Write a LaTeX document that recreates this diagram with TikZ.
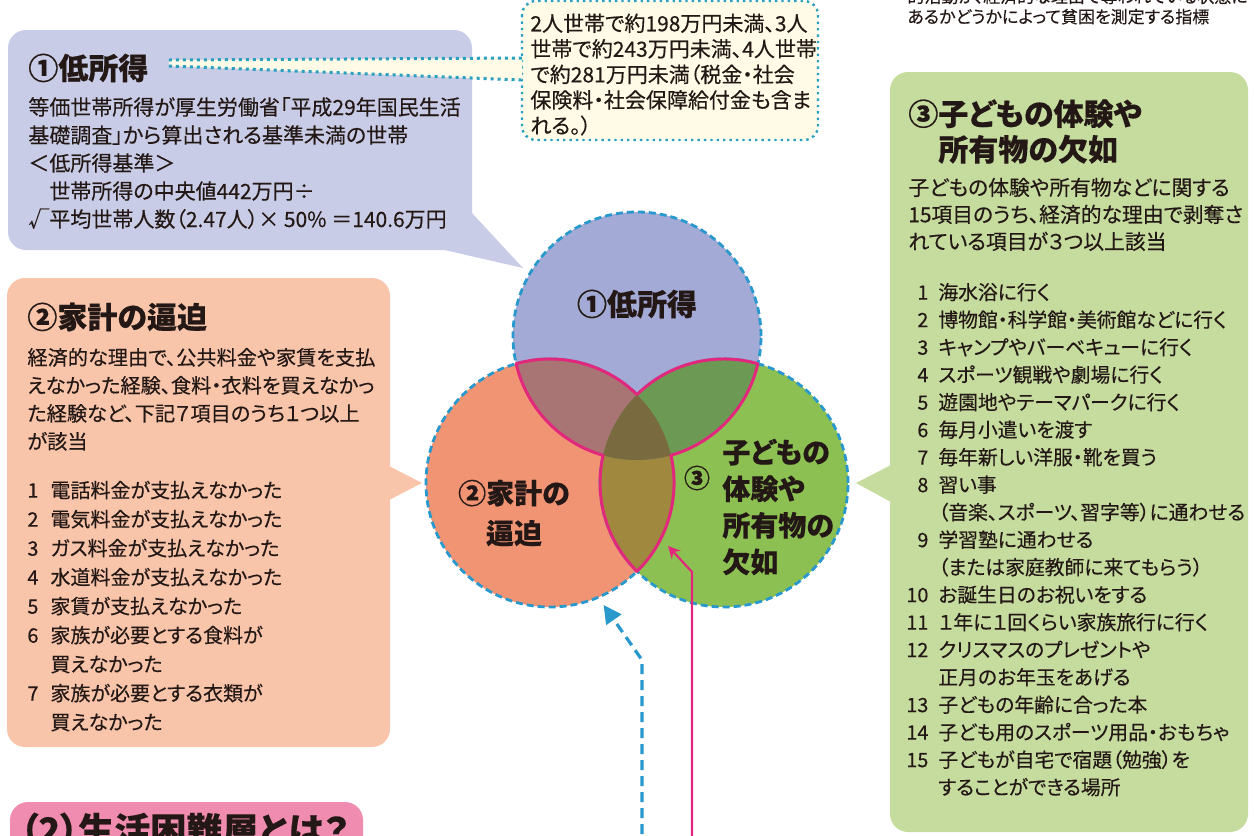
\documentclass[tikz,border=0pt]{standalone}
\usepackage{fontspec}
\setmainfont{Noto Sans CJK JP}[RawFeature=+palt, FakeBold=0.35]
\usetikzlibrary{arrows.meta,calc}

\definecolor{ink}{RGB}{35,24,21}
\definecolor{lowbox}{RGB}{201,204,230}
\definecolor{lowcirc}{RGB}{164,170,214}
\definecolor{debtbox}{RGB}{249,197,170}
\definecolor{debtcirc}{RGB}{241,148,116}
\definecolor{lackbox}{RGB}{197,220,158}
\definecolor{lackcirc}{RGB}{141,192,82}
\definecolor{ovTL}{RGB}{168,116,116}
\definecolor{ovTR}{RGB}{108,153,84}
\definecolor{ovLR}{RGB}{160,136,62}
\definecolor{ovAll}{RGB}{122,106,64}
\definecolor{edgeblue}{RGB}{40,152,205}
\definecolor{noteedge}{RGB}{40,160,190}
\definecolor{magline}{RGB}{226,40,124}
\definecolor{notefill}{RGB}{255,251,230}
\definecolor{pinkbox}{RGB}{240,140,175}

\tikzset{
    box/.style={rounded corners=9pt},
    boxtitle/.style={inner sep=0pt, text=ink, font=\bfseries\fontsize{15}{16}\selectfont},
    boxtext/.style={inner sep=0pt, text=ink, font=\fontsize{10.5}{14}\selectfont},
    itemtext/.style={inner sep=0pt, text=ink, font=\fontsize{10}{14.5}\selectfont},
    vcirc/.style={circle, minimum size=124pt, inner sep=0pt, draw=edgeblue, line width=1.4pt, dash pattern=on 3.5pt off 2pt},
    vlabel/.style={inner sep=0pt, text=ink, font=\bfseries\fontsize{14}{20}\selectfont},
    notebox/.style={rounded corners=7pt, fill=notefill, draw=noteedge, line width=1.2pt, dotted},
    bandline/.style={draw=noteedge, line width=1.5pt, dotted},
    lensline/.style={draw=magline, line width=1.5pt, line join=round},
    dasharrow/.style={draw=edgeblue, line width=1.6pt, dash pattern=on 5pt off 3pt, -{Triangle[length=9pt,width=9pt]}, shorten >=4pt},
    magarrow/.style={draw=magline, line width=1.1pt, -{Stealth[length=6pt,width=6pt]}},
}

\begin{document}
\begin{tikzpicture}[x=0.5pt, y=-0.5pt]
    \useasboundingbox (0,0) rectangle (1254,836);

    \node[boxtext, font=\fontsize{8.5}{10}\selectfont, anchor=north west] (topNote) at (907,-12)
    {\begin{tabular}{@{}l@{}}的活動が、経済的な理由で奪われている状態に\\
    あるかどうかによって貧困を測定する指標\end{tabular}};

    % low income
    \fill[lowbox, box] (8,30) rectangle (472,250);
    \fill[lowbox] (440,249) -- (523,268) -- (471,212) -- cycle;
    \node[boxtitle, anchor=west] (tLow) at (28,68) {①低所得};
    \node[boxtext, anchor=north west] (xLow) at (28,95)
    {\begin{tabular}{@{}l@{}}等価世帯所得が厚生労働省「平成29年国民生活\\
    基礎調査」から算出される基準未満の世帯\\
    ＜低所得基準＞\\
    　世帯所得の中央値442万円÷\\
    √平均世帯人数（2.47人）× 50\% ＝140.6万円\end{tabular}};

    \draw[notebox] (522,1) rectangle (818,140);
    \node[boxtext, font=\fontsize{10.5}{12.75}\selectfont, anchor=north west] (noteText) at (530,13)
    {\begin{tabular}{@{}l@{}}2人世帯で約198万円未満、3人\\
    世帯で約243万円未満、4人世帯\\
    で約281万円未満（税金・社会\\
    保険料・社会保障給付金も含ま\\
    れる。）\end{tabular}};
    \fill[notefill] ([xshift=10pt,yshift=4pt]tLow.east) -- ([xshift=-4pt,yshift=5pt]noteText.west |- tLow.east)
        -- ([xshift=-4pt,yshift=-6pt]noteText.west |- tLow.east) -- ([xshift=10pt,yshift=1pt]tLow.east) -- cycle;
    \draw[bandline] ([xshift=10pt,yshift=4pt]tLow.east) -- ([xshift=-4pt,yshift=5pt]noteText.west |- tLow.east);
    \draw[bandline] ([xshift=10pt,yshift=1pt]tLow.east) -- ([xshift=-4pt,yshift=-6pt]noteText.west |- tLow.east);

    % household debt
    \fill[debtbox, box] (7,278) rectangle (390,747);
    \fill[debtbox] (389,466) -- (422,483) -- (389,500) -- cycle;
    \node[boxtitle, anchor=west] (tDebt) at (27,317) {②家計の逼迫};
    \node[boxtext, font=\fontsize{10.1}{14}\selectfont, anchor=north west] (xDebt) at (27,345)
    {\begin{tabular}{@{}l@{}}経済的な理由で、公共料金や家賃を支払\\
    えなかった経験、食料・衣料を買えなかっ\\
    た経験など、下記７項目のうち１つ以上\\
    が該当\end{tabular}};
    \node[itemtext, anchor=north west] (iDebt) at (27,477)
    {\begin{tabular}{@{}r@{\hspace{6pt}}l@{}}
    1 & 電話料金が支払えなかった\\
    2 & 電気料金が支払えなかった\\
    3 & ガス料金が支払えなかった\\
    4 & 水道料金が支払えなかった\\
    5 & 家賃が支払えなかった\\
    6 & 家族が必要とする食料が\\
      & 買えなかった\\
    7 & 家族が必要とする衣類が\\
      & 買えなかった\end{tabular}};

    % lack of experiences
    \fill[lackbox, box] (890,72) rectangle (1248,832);
    \fill[lackbox] (891,465) -- (856,483) -- (891,502) -- cycle;
    \node[boxtitle, anchor=north west] (tLack) at (908,99)
    {\begin{tabular}{@{}l@{}}③子どもの体験や\\\phantom{③}所有物の欠如\end{tabular}};
    \node[boxtext, font=\fontsize{10.4}{13.5}\selectfont, anchor=north west] (xLack) at (908,176)
    {\begin{tabular}{@{}l@{}}子どもの体験や所有物などに関する\\
    15項目のうち、経済的な理由で剥奪さ\\
    れている項目が３つ以上該当\end{tabular}};
    \node[itemtext, font=\fontsize{9.9}{13.75}\selectfont, anchor=north west] (iLack) at (906,280)
    {\begin{tabular}{@{}r@{\hspace{5pt}}l@{}}
    1 & 海水浴に行く\\
    2 & 博物館・科学館・美術館などに行く\\
    3 & キャンプやバーベキューに行く\\
    4 & スポーツ観戦や劇場に行く\\
    5 & 遊園地やテーマパークに行く\\
    6 & 毎月小遣いを渡す\\
    7 & 毎年新しい洋服・靴を買う\\
    8 & 習い事\\
      & （音楽、スポーツ、習字等）に通わせる\\
    9 & 学習塾に通わせる\\
      & （または家庭教師に来てもらう）\\
    10 & お誕生日のお祝いをする\\
    11 & １年に１回くらい家族旅行に行く\\
    12 & クリスマスのプレゼントや\\
       & 正月のお年玉をあげる\\
    13 & 子どもの年齢に合った本\\
    14 & 子ども用のスポーツ用品・おもちゃ\\
    15 & 子どもが自宅で宿題（勉強）を\\
       & することができる場所\end{tabular}};

    % venn
    \node[vcirc, fill=lowcirc] (cT) at (637,336) {};
    \node[vcirc, fill=debtcirc] (cL) at (550,483) {};
    \node[vcirc, fill=lackcirc] (cR) at (724,483) {};
    \begin{scope}
        \clip (cL.center) circle[radius=124];
        \fill[ovLR] (cR.center) circle[radius=124];
    \end{scope}
    \begin{scope}
        \clip (cT.center) circle[radius=124];
        \fill[ovTL] (cL.center) circle[radius=124];
        \fill[ovTR] (cR.center) circle[radius=124];
        \clip (cL.center) circle[radius=124];
        \fill[ovAll] (cR.center) circle[radius=124];
    \end{scope}
    \draw[lensline] (516.1,363.7)
        arc[start angle=-105.87, end angle=-45.45, radius=124]
        arc[start angle=-134.55, end angle=-74.13, radius=124]
        arc[start angle=12.9, end angle=74.13, radius=124]
        arc[start angle=-12.9, end angle=45.45, radius=124]
        arc[start angle=134.55, end angle=192.9, radius=124]
        arc[start angle=105.87, end angle=167.1, radius=124] -- cycle;

    \node[vlabel, font=\bfseries\fontsize{15}{20}\selectfont] (vLow) at (637,304) {①低所得};
    \node[vlabel, align=center] (vDebt) at (514,513) {②家計の\\逼迫};
    \node[vlabel, font=\bfseries\fontsize{13}{18}\selectfont] (vNum) at (697,478) {③};
    \node[vlabel, align=left, anchor=west, font=\bfseries\fontsize{14}{18.3}\selectfont] (vLack) at (722,507)
    {子どもの\\体験や\\所有物の\\欠如};

    % arrows from below
    \coordinate (dashFoot) at (642,850);
    \coordinate (dashKnee) at (642,660);
    \draw[dasharrow] (dashFoot) -- (dashKnee) -- (cL.-67);
    \coordinate (magFoot) at (692,850);
    \coordinate (magKnee) at (692,572);
    \coordinate (lensLR) at (668,546);
    \draw[magarrow] (magFoot) -- (magKnee) -- (lensLR);

    % next heading
    \fill[pinkbox, box] (10,802) rectangle (363,880);
    \node[boxtitle, font=\bfseries\fontsize{18}{20}\selectfont, anchor=west] (tNext) at (20,830) {（2）生活困難層とは？};
\end{tikzpicture}
\end{document}
